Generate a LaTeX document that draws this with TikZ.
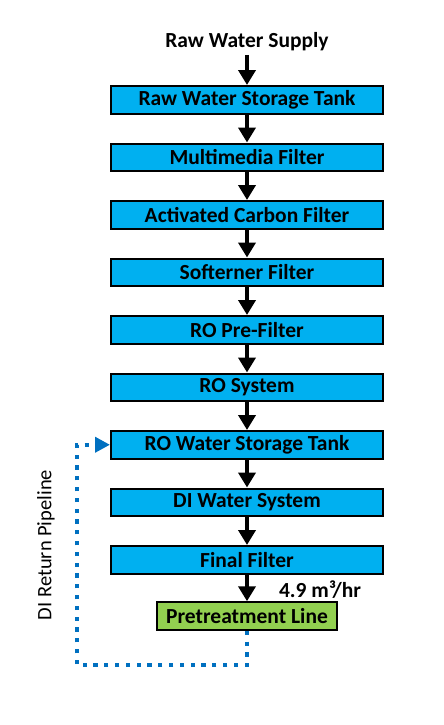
\documentclass[tikz,border=0pt]{standalone}
\usepackage{fontspec}
\setmainfont{Carlito}
\usetikzlibrary{arrows.meta}
\definecolor{boxblue}{RGB}{0,176,240}
\definecolor{boxgreen}{RGB}{146,208,80}
\definecolor{pipeblue}{RGB}{0,112,192}
\tikzset{
  stage/.style={draw=black, line width=2pt, fill=boxblue, minimum width=272pt, minimum height=27.5pt, inner sep=0pt, font=\fontsize{21.5}{23}\selectfont\bfseries},
  greenstage/.style={stage, fill=boxgreen, minimum width=180pt},
  flow/.style={line width=4pt, -{Triangle[width=17pt,length=15pt]}},
  pipe/.style={draw=pipeblue, line width=4.3pt, dash pattern=on 4.3pt off 6.5pt, -{Triangle[width=15pt,length=15pt,fill=pipeblue]}},
  lbl/.style={font=\fontsize{21.5}{23}\selectfont\bfseries, inner sep=0pt}
}
\begin{document}
\begin{tikzpicture}[x=1pt,y=-1pt]
\useasboundingbox (0,0) rectangle (444,725);
\node[lbl] (src) at (247,42) {Raw Water Supply};
\node[stage] (b1) at (247,99.75) {Raw Water Storage Tank};
\node[stage] (b2) at (247,157.25) {Multimedia Filter};
\node[stage] (b3) at (247,214.75) {Activated Carbon Filter};
\node[stage] (b4) at (247,272.25) {Softerner Filter};
\node[stage] (b5) at (247,329.75) {RO Pre-Filter};
\node[stage] (b6) at (247,387.25) {RO System};
\node[stage] (b7) at (247,444.75) {RO Water Storage Tank};
\node[stage] (b8) at (247,502.25) {DI Water System};
\node[stage] (b9) at (247,559.75) {Final Filter};
\node[greenstage] (pre) at (247,616) {Pretreatment Line};
\node[lbl] (rate) at (320,590) {4.9 m³/hr};
\node[font=\fontsize{20.5}{22}\selectfont, rotate=90, inner sep=0pt] (ret) at (46,545) {DI Return Pipeline};
\coordinate (c1) at (247,665);
\coordinate (c2) at (77,665);
\coordinate (c3) at (77,444.75);
\draw[flow] (src.south |- 0,55) -- (b1.north);
\foreach \a/\b in {b1/b2,b2/b3,b3/b4,b4/b5,b5/b6,b6/b7,b7/b8,b8/b9,b9/pre}{
  \draw[flow] (\a.south) -- (\b.north);
}
\draw[pipe] (pre.south) -- (c1) -- (c2) -- (c3) -- (b7.west);
\end{tikzpicture}
\end{document}
